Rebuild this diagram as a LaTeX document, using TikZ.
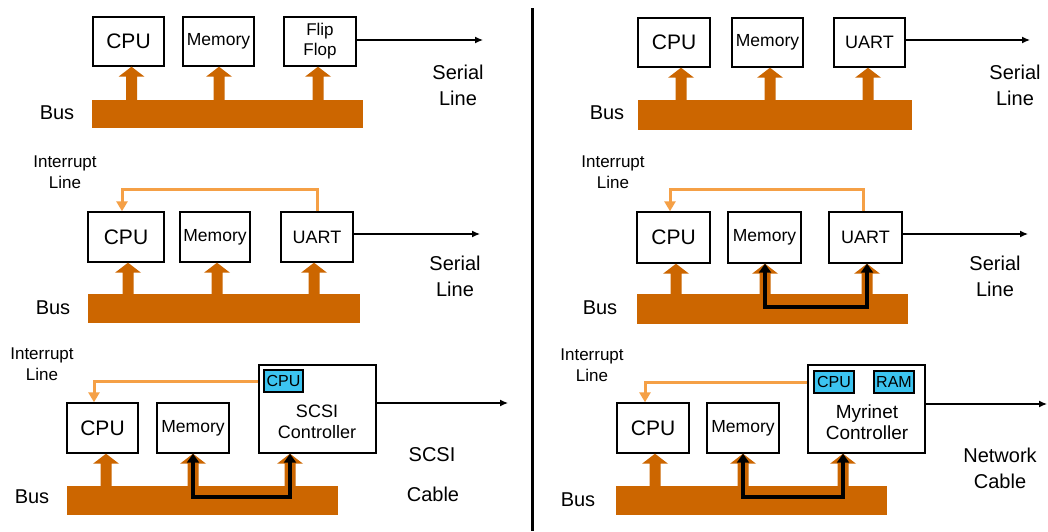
\documentclass[tikz,border=0pt]{standalone}
\usepackage{fontspec}
\setmainfont{Liberation Sans}
\usetikzlibrary{arrows.meta,calc}

\definecolor{busc}{RGB}{204,102,0}
\definecolor{irqc}{RGB}{245,160,70}
\definecolor{chipc}{RGB}{60,196,240}

\tikzset{
  unit/.style={draw=black, line width=1.4pt, fill=white, inner sep=0pt,
    minimum width=71pt, minimum height=50pt, align=center,
    font=\fontsize{17.5}{21}\selectfont},
  busbar/.style={fill=busc, inner sep=0pt, minimum height=29pt},
  lbl/.style={inner sep=0pt, align=center, font=\fontsize{20}{26}\selectfont},
  irqlbl/.style={inner sep=0pt, align=center, font=\fontsize{17}{21}\selectfont},
  chip/.style={draw=black, line width=1.2pt, fill=chipc, inner sep=0pt,
    minimum width=40pt, minimum height=22pt, font=\fontsize{16}{18}\selectfont},
  serial/.style={draw=black, line width=1.3pt, -{Latex[length=8pt,width=7pt]}},
  irq/.style={draw=irqc, line width=3pt, -{Triangle[length=10pt,width=11pt]}},
  dma/.style={draw=black, line width=4.5pt,
    {Triangle[length=9pt,width=12pt]}-{Triangle[length=9pt,width=12pt]}},
}

% wide bus arrow: #1 bus node, #2 device node, #3 horizontal offset
\newcommand\busfeed[3]{%
  \fill[busc] let \p1=([xshift=#3]#2.south), \p2=(#1.north) in
    (\x1-5.5pt,\y2) -- (\x1-5.5pt,\y1-10pt) -- (\x1-13pt,\y1-10pt) -- (\x1,\y1)
    -- (\x1+13pt,\y1-10pt) -- (\x1+5.5pt,\y1-10pt) -- (\x1+5.5pt,\y2) -- cycle;}

\begin{document}
\begin{tikzpicture}[x=1pt,y=-1pt]
\fill[white] (0,0) rectangle (1048,531);
\useasboundingbox (0,0) rectangle (1048,531);

% divider between the two columns
\draw[line width=3pt] (532.5,8) -- (532.5,531);

% ---------------- left column, row 1 ----------------
\node[busbar, minimum width=271pt, minimum height=28pt] (bus1) at (227.5,114) {};
\node[unit, minimum height=49pt, font=\fontsize{21}{25}\selectfont] (cpu1) at (128.5,41.5) {CPU};
\node[unit, minimum height=49pt] (mem1) at (218.5,41.5) {Memory};
\node[unit, minimum width=72pt, minimum height=49pt, font=\fontsize{17}{20}\selectfont] (ff1) at (320,41.5) {Flip\\Flop};
\busfeed{bus1}{cpu1}{3pt}
\busfeed{bus1}{mem1}{0.5pt}
\busfeed{bus1}{ff1}{-2pt}
\coordinate (s1) at (483,40);
\draw[serial] (ff1.east |- s1) -- (s1);
\node[lbl] (buslbl1) at (57,113) {Bus};
\node[lbl] (ser1) at (458,85) {Serial\\Line};

% ---------------- left column, row 2 ----------------
\node[busbar, minimum width=272pt] (bus2) at (224,308.5) {};
\node[unit, minimum width=76pt, font=\fontsize{21}{25}\selectfont] (cpu2) at (126,237) {CPU};
\node[unit, minimum width=70pt] (mem2) at (215,237) {Memory};
\node[unit, minimum width=72pt, font=\fontsize{18}{22}\selectfont] (uart2) at (317,237) {UART};
\busfeed{bus2}{cpu2}{2pt}
\busfeed{bus2}{mem2}{2pt}
\busfeed{bus2}{uart2}{-3pt}
\draw[irq] (uart2.north) -- ++(0,-22) -| ([xshift=-4pt]cpu2.north);
\coordinate (s2) at (480,234);
\draw[serial] (uart2.east |- s2) -- (s2);
\node[irqlbl] (irqlbl2) at (65,172) {Interrupt\\Line};
\node[lbl] (buslbl2) at (53,308) {Bus};
\node[lbl] (ser2) at (455,276) {Serial\\Line};

% ---------------- left column, row 3 ----------------
\node[busbar, minimum width=271pt] (bus3) at (202.5,500.5) {};
\node[unit, font=\fontsize{21}{25}\selectfont] (cpu3) at (102.5,428) {CPU};
\node[unit, minimum width=72pt] (mem3) at (193,428) {Memory};
\node[unit, minimum width=117pt, minimum height=88pt] (ctl3) at (317.5,409) {};
\node[inner sep=0pt, align=center, font=\fontsize{18}{21}\selectfont] (ctl3txt) at (317,422) {SCSI\\Controller};
\node[chip, minimum width=39pt] (chip3) at (283.5,381) {CPU};
\busfeed{bus3}{cpu3}{3.5pt}
\busfeed{bus3}{mem3}{0pt}
\busfeed{bus3}{ctl3}{-27.5pt}
\coordinate (dma3) at (193,497);
\draw[dma] (mem3.south) -- (dma3) -| ([xshift=-27.5pt]ctl3.south);
\draw[irq] (ctl3.west |- chip3.west) -| ([xshift=-8.5pt]cpu3.north);
\coordinate (s3) at (508,403);
\draw[serial] (ctl3.east |- s3) -- (s3);
\node[irqlbl] (irqlbl3) at (42,364) {Interrupt\\Line};
\node[lbl] (buslbl3) at (32,497) {Bus};
\node[lbl] (scsi3) at (432,455) {SCSI};
\node[lbl] (cable3) at (433,494) {Cable};

% ---------------- right column, row 1 ----------------
\node[busbar, minimum width=274pt, minimum height=30pt] (bus4) at (775,115) {};
\node[unit, minimum width=72pt, minimum height=49pt, font=\fontsize{21}{25}\selectfont] (cpu4) at (674,42.5) {CPU};
\node[unit, minimum height=49pt] (mem4) at (767.5,42.5) {Memory};
\node[unit, minimum height=49pt, font=\fontsize{18}{22}\selectfont] (uart4) at (869.5,42.5) {UART};
\busfeed{bus4}{cpu4}{7pt}
\busfeed{bus4}{mem4}{2.5pt}
\busfeed{bus4}{uart4}{-1.5pt}
\coordinate (s4) at (1030,40);
\draw[serial] (uart4.east |- s4) -- (s4);
\node[lbl] (buslbl4) at (607,113) {Bus};
\node[lbl] (ser4) at (1015,85) {Serial\\Line};

% ---------------- right column, row 2 ----------------
\node[busbar, minimum width=271pt, minimum height=30pt] (bus5) at (772.5,309) {};
\node[unit, minimum width=73pt, minimum height=51pt, font=\fontsize{21}{25}\selectfont] (cpu5) at (673.5,237.5) {CPU};
\node[unit, minimum width=73pt, minimum height=51pt] (mem5) at (764.5,237.5) {Memory};
\node[unit, minimum width=73pt, minimum height=51pt, font=\fontsize{18}{22}\selectfont] (uart5) at (865.5,237.5) {UART};
\busfeed{bus5}{cpu5}{2.5pt}
\busfeed{bus5}{mem5}{0.5pt}
\busfeed{bus5}{uart5}{1.5pt}
\coordinate (dma5) at (765,307);
\draw[dma] ([xshift=0.5pt]mem5.south) -- (dma5) -| ([xshift=1.5pt]uart5.south);
\draw[irq] ([xshift=-2.5pt]uart5.north) -- ++(0,-22) -| ([xshift=-3.5pt]cpu5.north);
\coordinate (s5) at (1028,234);
\draw[serial] (uart5.east |- s5) -- (s5);
\node[irqlbl] (irqlbl5) at (613,172) {Interrupt\\Line};
\node[lbl] (buslbl5) at (600,308) {Bus};
\node[lbl] (ser5) at (995,276) {Serial\\Line};

% ---------------- right column, row 3 ----------------
\node[busbar, minimum width=271pt] (bus6) at (751.5,500.5) {};
\node[unit, minimum width=72pt, font=\fontsize{21}{25}\selectfont] (cpu6) at (653,428) {CPU};
\node[unit, minimum width=72pt] (mem6) at (743,428) {Memory};
\node[unit, minimum width=117pt, minimum height=88pt] (ctl6) at (866.5,409) {};
\node[inner sep=0pt, align=center, font=\fontsize{19}{21}\selectfont] (ctl6txt) at (867,422) {Myrinet\\Controller};
\node[chip] (chip6) at (834,382) {CPU};
\node[chip] (ram6) at (894,382) {RAM};
\busfeed{bus6}{cpu6}{2pt}
\busfeed{bus6}{mem6}{0pt}
\busfeed{bus6}{ctl6}{-23.5pt}
\coordinate (dma6) at (743,497);
\draw[dma] (mem6.south) -- (dma6) -| ([xshift=-23.5pt]ctl6.south);
\draw[irq] (ctl6.west |- chip6.west) -| ([xshift=-8pt]cpu6.north);
\coordinate (s6) at (1047,404);
\draw[serial] (ctl6.east |- s6) -- (s6);
\node[irqlbl] (irqlbl6) at (592,365) {Interrupt\\Line};
\node[lbl] (buslbl6) at (578,500) {Bus};
\node[lbl] (net6) at (1000,468) {Network\\Cable};
\end{tikzpicture}
\end{document}
